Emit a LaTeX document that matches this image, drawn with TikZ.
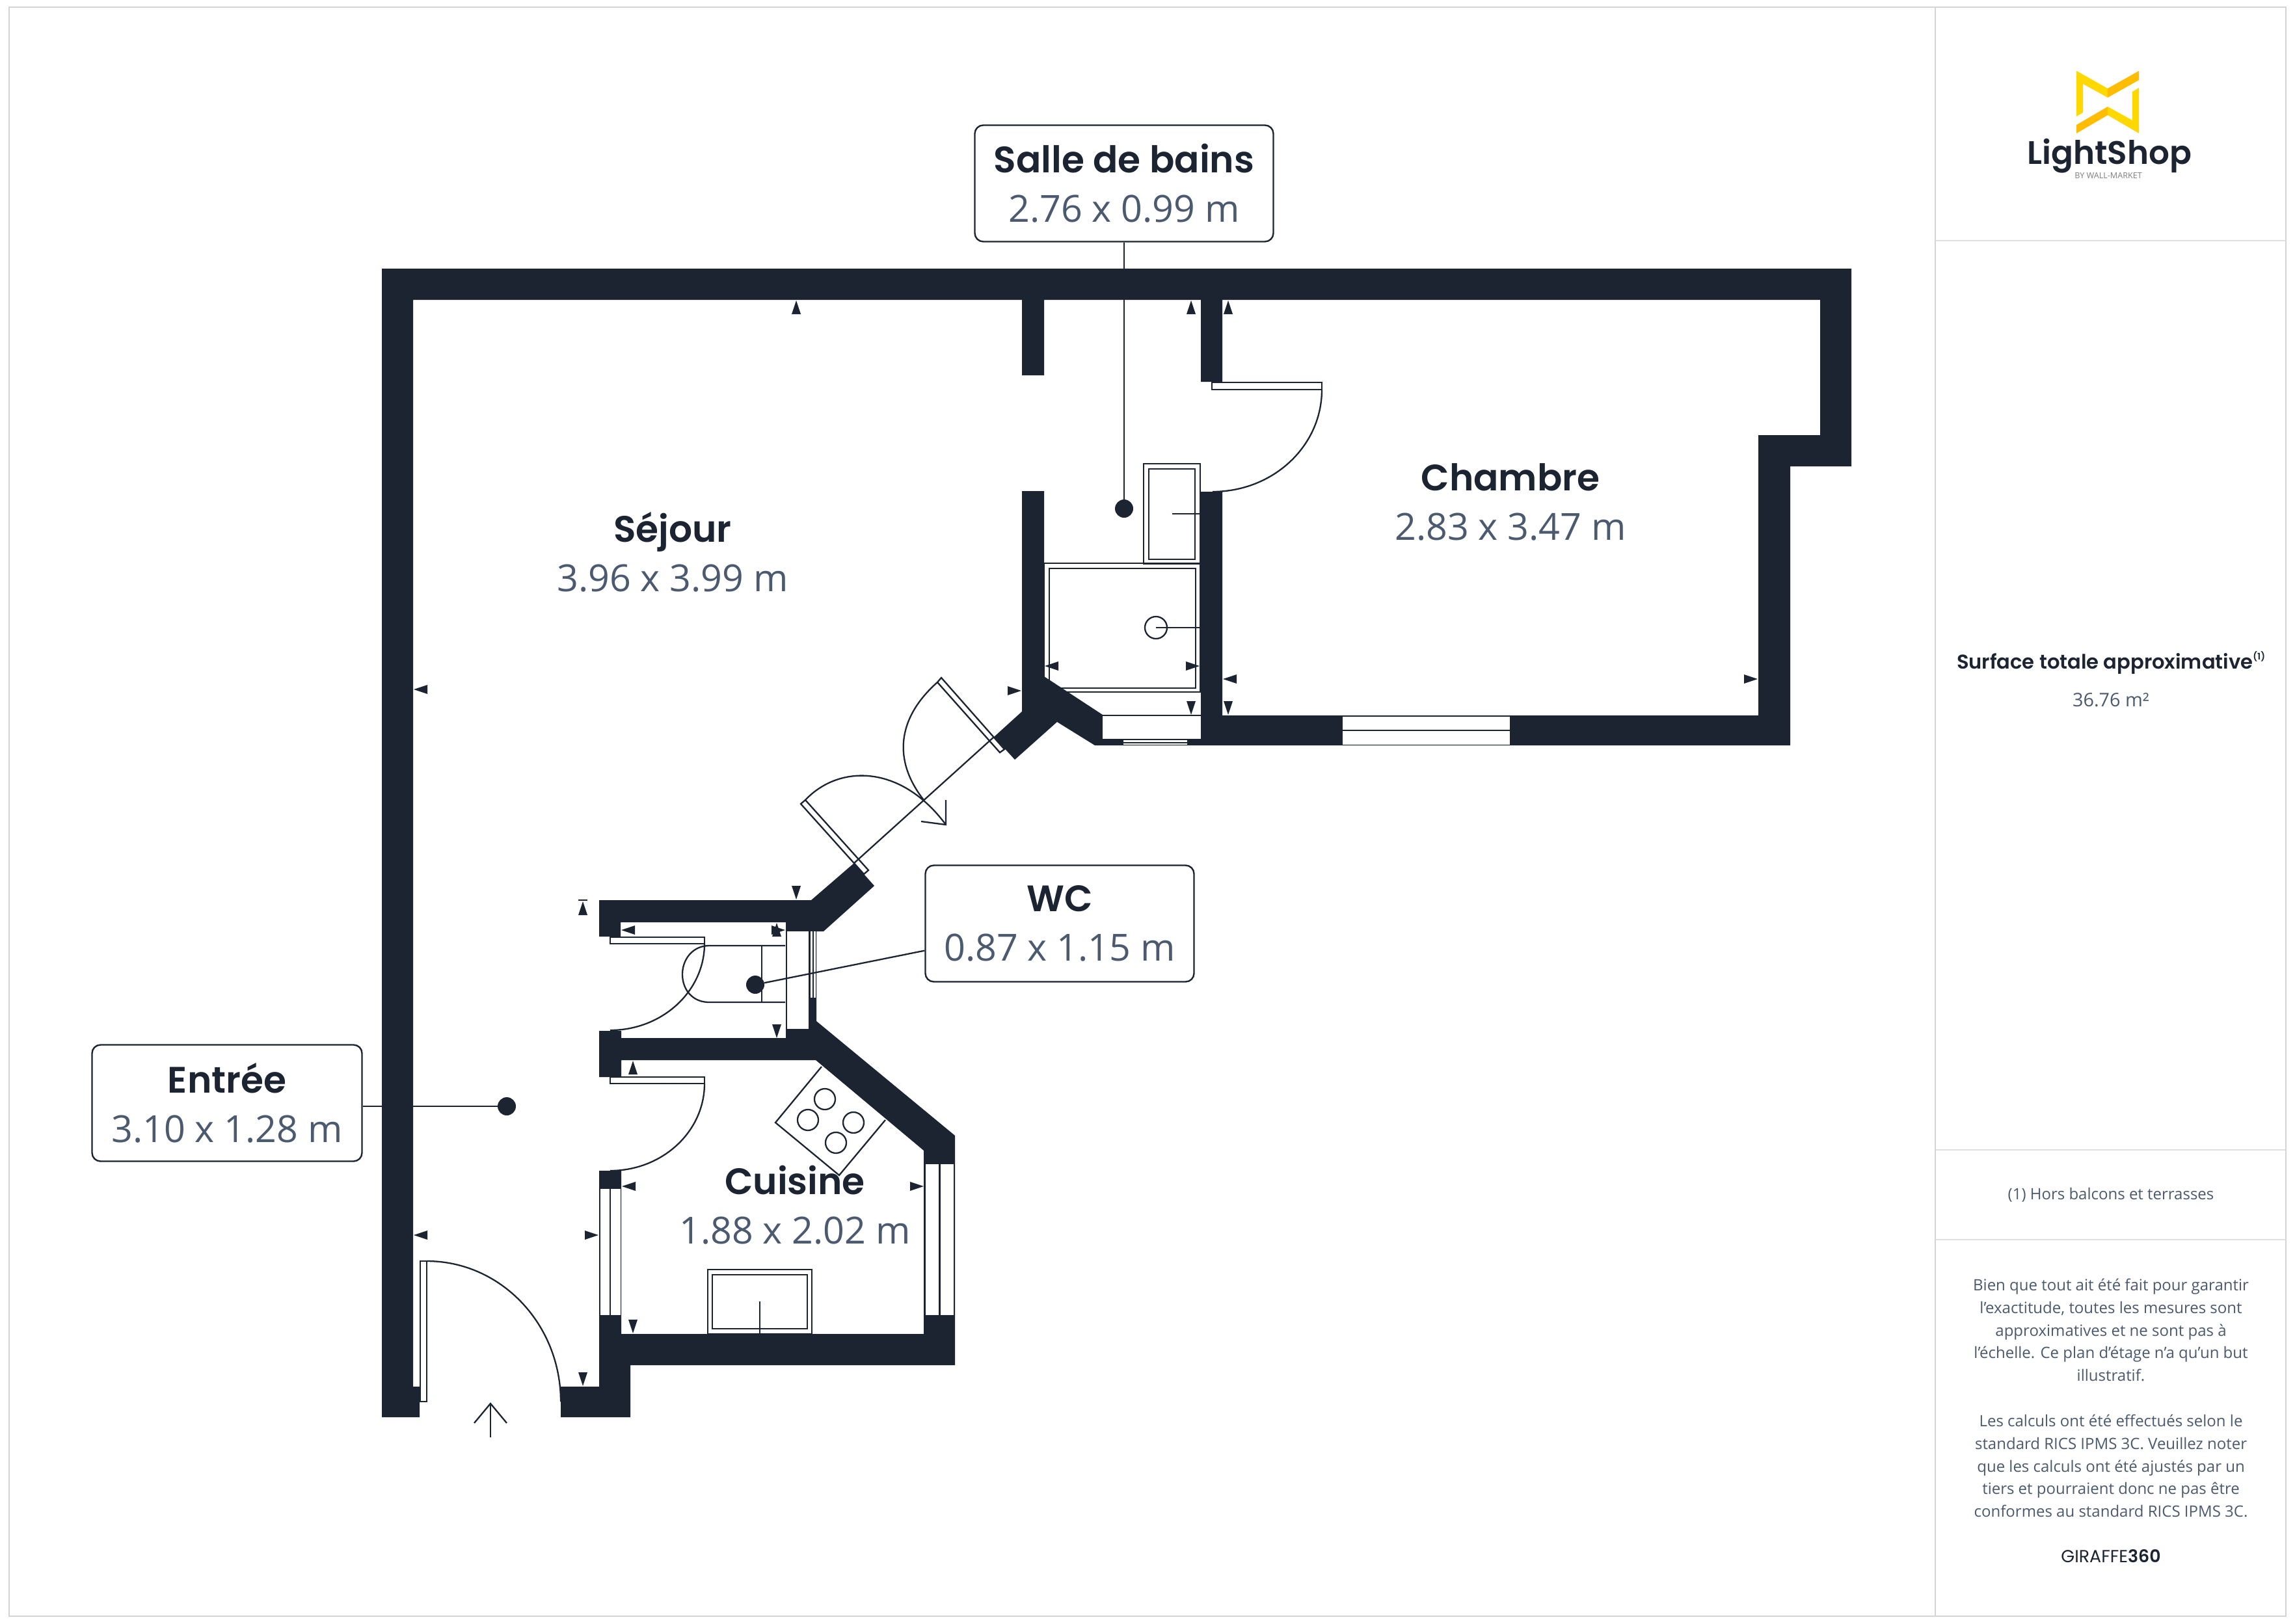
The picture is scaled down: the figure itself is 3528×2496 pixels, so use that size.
\documentclass[tikz,border=0pt]{standalone}
\usepackage{fontspec}
\setmainfont{Open Sans}
\newfontfamily\headfont{Poppins SemiBold}
\newfontfamily\lightfont{Poppins}
\usetikzlibrary{positioning}
\definecolor{wallcol}{HTML}{1B2430}
\definecolor{valuecol}{HTML}{4B5A6E}
\definecolor{framecol}{HTML}{D4D4D4}
\definecolor{rulecol}{HTML}{DDDFE2}
\definecolor{logoyellow}{HTML}{FFD800}
\definecolor{logoorange}{HTML}{FFBC00}
\newcommand{\roomname}[2]{{\headfont\fontsize{28.3}{38}\selectfont\textcolor{wallcol}{#1}}\\#2}
\tikzset{wall/.style = {fill=wallcol}}
\tikzset{thin line/.style = {draw=wallcol, line width=1.15pt}}
\tikzset{leaf/.style = {draw=wallcol, line width=1.15pt, fill=white}}
\tikzset{pane/.style = {fill=white}}
\tikzset{roomtext/.style = {align=center, text=valuecol, inner sep=0,
                            font=\fontsize{28.7}{38}\selectfont}}
\tikzset{roombox/.style = {roomtext, draw=wallcol, line width=1.2pt, fill=white,
                           rounded corners=6.5pt, minimum height=89.5pt}}
\tikzset{pin/.style = {fill=wallcol, circle, inner sep=0, minimum size=14pt}}
\tikzset{sidetext/.style = {align=center, text=valuecol, inner sep=0}}
\begin{document}
\begin{tikzpicture}[x=0.5pt, y=-0.5pt]
  \path [use as bounding box, fill=white] (0, 0) rectangle (3528, 2496);

  % sheet
  \draw [framecol, line width=1.3pt] (14, 11) rectangle (3514, 2485);
  \draw [framecol, line width=1.3pt] (2975, 11) -- (2975, 2485);
  \draw [rulecol, line width=1pt] (2975, 370) -- (3514, 370);
  \draw [rulecol, line width=1pt] (2975, 1768) -- (3514, 1768);
  \draw [rulecol, line width=1pt] (2975, 1906) -- (3514, 1906);

  % fixtures
  \draw [thin line] (1758, 867) rectangle (1845, 713);
  \draw [thin line] (1766, 860) rectangle (1837, 721);
  \draw [thin line] (1802, 790) -- (1845, 790);
  \draw [thin line] (1605, 866) rectangle (1845, 1064);
  \draw [thin line] (1613, 874) rectangle (1838, 1058);
  \draw [thin line] (1777, 965) circle [radius=17];
  \draw [thin line] (1777, 965) -- (1845, 965);
  \draw [thin line] (1088, 2051) rectangle (1248, 1952);
  \draw [thin line] (1095, 2043) rectangle (1241, 1960);
  \draw [thin line] (1168, 2001) -- (1168, 2051);
  \draw [thin line] (1263, 1640) -- (1192, 1726) -- (1290, 1807) -- (1361, 1722);
  \foreach \x/\y in {1268/1690, 1242/1722, 1312/1726, 1285/1757} {
    \draw [thin line] (\x, \y) circle [radius=16];
  }
  \draw [thin line] (1207, 1454) -- (1090, 1454)
    .. controls (1065, 1454) and (1049, 1475) .. (1049, 1498)
    .. controls (1049, 1522) and (1065, 1541) .. (1090, 1541) -- (1207, 1541);
  \draw [thin line] (1171, 1454) -- (1171, 1541);

  % walls
  \fill [wall] (587, 413) -- (2846, 413) -- (2846, 717) -- (2752, 717) -- (2752, 1146)
    -- (1683, 1146) -- (1625, 1110) -- (1560, 1168) -- (1528, 1133) -- (1571, 1094)
    -- (1571, 755) -- (1605, 755) -- (1605, 1040) -- (1695, 1099) -- (1846, 1099)
    -- (1846, 756) -- (1879, 756) -- (1879, 1100) -- (2703, 1100) -- (2703, 669)
    -- (2798, 669) -- (2798, 461) -- (1879, 461) -- (1879, 587) -- (1846, 587)
    -- (1846, 461) -- (1605, 461) -- (1605, 577) -- (1571, 577) -- (1571, 461)
    -- (635, 461) -- (635, 2132) -- (645, 2132) -- (645, 2179) -- (587, 2179) -- cycle;
  \fill [wall] (921, 1384) -- (1247, 1384) -- (1313, 1327) -- (1344, 1362) -- (1266, 1432)
    -- (1255, 1432) -- (1255, 1570) -- (1468, 1746) -- (1468, 2099) -- (969, 2099)
    -- (969, 2179) -- (862, 2179) -- (862, 2132) -- (921, 2132) -- (921, 1800)
    -- (955, 1800) -- (955, 2051) -- (1420, 2051) -- (1420, 1769) -- (1254, 1630)
    -- (955, 1630) -- (955, 1656) -- (921, 1656) -- (921, 1585) -- (955, 1585)
    -- (955, 1596) -- (1208, 1596) -- (1208, 1418) -- (954, 1418) -- (954, 1440)
    -- (921, 1440) -- cycle;

  % windows
  \foreach \xa/\ya/\xb/\yb in {1695/1101/1846/1136, 1727/1138/1825/1141, 1727/1142.5/1825/1145,
      2064/1102/2321/1121.5, 2064/1123.5/2321/1145, 1210/1432/1243/1582,
      1245.5/1432/1249/1534, 1250.5/1432/1254/1534, 923/1828/937/2022, 939/1828/953.5/2022,
      1422.5/1790/1443/2022, 1445.5/1790/1466/2022} {
    \fill [pane] (\xa, \ya) rectangle (\xb, \yb);
  }

  % doors
  \draw [leaf] (646, 1939) rectangle (656, 2155);
  \draw [thin line] (656, 1939) .. controls (770, 1939) and (862, 2036) .. (862, 2155);
  \draw [leaf] (938, 1441) rectangle (1083, 1451);
  \draw [thin line] (1083, 1451) .. controls (1083, 1524) and (1018, 1584) .. (938, 1584);
  \draw [leaf] (938, 1656) rectangle (1083, 1666);
  \draw [thin line] (1083, 1666) .. controls (1083, 1740) and (1018, 1800) .. (938, 1800);
  \draw [leaf] (1863, 588) rectangle (2032, 599);
  \draw [thin line] (2032, 599) .. controls (2032, 686) and (1957, 756) .. (1864, 756);
  \draw [leaf] (1231, 1236) -- (1238, 1230) -- (1335, 1338) -- (1328, 1344) -- cycle;
  \draw [leaf] (1447, 1042) -- (1441, 1049) -- (1537, 1157) -- (1544, 1152) -- cycle;
  \draw [thin line] (1313, 1327) -- (1528, 1133);
  \draw [thin line] (1238, 1230) .. controls (1290, 1175) and (1385, 1175) .. (1454, 1268);
  \draw [thin line] (1441, 1049) .. controls (1378, 1105) and (1373, 1170) .. (1420, 1230);
  \draw [thin line] (1454, 1230) -- (1454, 1268) -- (1416, 1263);
  \draw [thin line] (754, 2210) -- (754, 2158);
  \draw [thin line] (729, 2188) -- (754, 2158) -- (779, 2188);
  \draw [thin line] (889, 1384) -- (903, 1384);

  % measuring ticks: tip, then turn
  \foreach \x/\y/\a in {1224/462/0, 1831/462/0, 1888/462/0, 1831/1099/180, 1888/1099/180,
      1880/1044/90, 2702/1044/-90, 1606/1024/90, 1844/1024/-90, 1570/1062/-90,
      636/1060/90, 636/1899/90, 920/1899/-90, 956/1824/90, 1420/1824/-90,
      973/2050/180, 896/2131/180, 1194/1596/180, 973/1631/0, 896/1386/0,
      1224/1383/180, 955/1430/90, 1207/1430/-90, 1194/1419/0} {
    \begin{scope}[shift={(\x, \y)}, rotate=\a]
      \fill [wallcol] (0, 0) -- (7, 21) -- (-7, 21) -- cycle;
    \end{scope}
  }

  % pins and their labels
  \node [roombox, minimum width=229.5pt] (bains) at (1728, 282) {\roomname{Salle de bains}{2.76 x 0.99 m}};
  \node [roombox, minimum width=206.5pt] (wc) at (1629, 1420) {\roomname{WC}{0.87 x 1.15 m}};
  \node [roombox, minimum width=207.5pt] (entree) at (349, 1696) {\roomname{Entrée}{3.10 x 1.28 m}};
  \node [pin] (bainspin) at (1728, 782) {};
  \node [pin] (wcpin) at (1161, 1514) {};
  \node [pin] (entreepin) at (779, 1701) {};
  \draw [thin line] (bains) -- (bainspin);
  \draw [thin line] (wc) -- (wcpin);
  \draw [thin line] (entreepin) -- (entreepin -| entree.east);

  % rooms
  \node [roomtext] (sejour) at (1034, 849) {\roomname{Séjour}{3.96 x 3.99 m}};
  \node [roomtext] (chambre) at (2322, 772) {\roomname{Chambre}{2.83 x 3.47 m}};
  \node [roomtext] (cuisine) at (1222, 1853) {\roomname{Cuisine}{1.88 x 2.02 m}};

  % logo
  \fill [logoyellow] (3192, 109) -- (3240, 136) -- (3240, 150) -- (3202, 129) -- (3202, 173) -- (3192, 179) -- cycle;
  \fill [logoorange] (3240, 136) -- (3288, 109) -- (3288, 123) -- (3240, 150) -- cycle;
  \fill [logoyellow] (3288, 135) -- (3288, 205) -- (3240, 177) -- (3240, 164) -- (3278, 185) -- (3278, 141) -- cycle;
  \fill [logoorange] (3192, 192) -- (3240, 164) -- (3240, 177) -- (3192, 205) -- cycle;
  \node [inner sep=0, text=wallcol, font=\headfont\fontsize{25}{30}\selectfont] (brand) at (3243, 240) {LightShop};
  \node [inner sep=0, text=gray, font=\fontsize{6.3}{8}\selectfont] (byline) at (3241, 270) {BY WALL-MARKET};

  % side panel
  \node [sidetext, text=wallcol, font=\headfont\fontsize{15.3}{18}\selectfont] (surface) at (3245, 1019)
    {Surface totale approximative\raisebox{0.45em}{\fontsize{7}{8}\selectfont(1)}};
  \node [sidetext, font=\fontsize{14.4}{18}\selectfont] (total) at (3245, 1076) {36.76 m²};
  \node [sidetext, font=\fontsize{12}{18}\selectfont] (note) at (3245, 1837) {(1) Hors balcons et terrasses};
  \node [sidetext, font=\fontsize{12}{17.45}\selectfont] (disclaimer) at (3245, 2045)
    {Bien que tout ait été fait pour garantir\\
     l’exactitude, toutes les mesures sont\\
     approximatives et ne sont pas à\\
     l’échelle. Ce plan d’étage n’a qu’un but\\
     illustratif.};
  \node [sidetext, font=\fontsize{12}{17.45}\selectfont] (calculs) at (3245, 2254)
    {Les calculs ont été effectués selon le\\
     standard RICS IPMS 3C. Veuillez noter\\
     que les calculs ont été ajustés par un\\
     tiers et pourraient donc ne pas être\\
     conformes au standard RICS IPMS 3C.};
  \node [sidetext, text=wallcol, font=\fontsize{13.4}{16}\selectfont] (giraffe) at (3245, 2393) {{\lightfont GIRAFFE}{\headfont 360}};
\end{tikzpicture}
\end{document}
